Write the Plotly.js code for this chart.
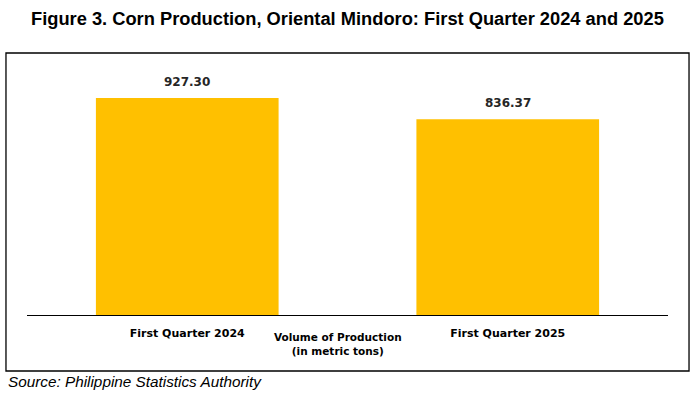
<!DOCTYPE html>
<html><head><meta charset="utf-8">
<script src="https://cdn.plot.ly/plotly-3.0.1.min.js"></script>
<style>html,body{margin:0;padding:0;background:#fff;}</style>
</head><body>
<div id="chart" style="width:699px;height:393px;"></div>
<script>
const categories = ["First Quarter 2024", "First Quarter 2025"];
const production = [927.30, 836.37];
const valueLabels = ["927.30", "836.37"];
const chartTitle = "Figure 3. Corn Production, Oriental Mindoro: First Quarter 2024 and 2025";
const axisTitle = "Volume of Production<br>(in metric tons)";
const sourceText = "Source: Philippine Statistics Authority";

const tickFont = {family: "DejaVu Sans, Tahoma, sans-serif", size: 11, color: "#000"};

const trace = {
  type: "bar",
  x: categories,
  y: production,
  marker: {color: "#FFC000"},
  hoverinfo: "x+y"
};

const labelAnnotations = categories.map((c, i) => ({
  x: c, y: production[i], xref: "x", yref: "y",
  text: valueLabels[i], showarrow: false,
  xanchor: "center", yanchor: "bottom", yshift: 7,
  font: {family: "DejaVu Sans, sans-serif", size: 12, color: "#262626", weight: "bold"}
}));

const layout = {
  width: 699, height: 393,
  margin: {l: 27, r: 31, t: 60, b: 78},
  paper_bgcolor: "#fff", plot_bgcolor: "#fff",
  bargap: 0.43,
  showlegend: false,
  title: {text: chartTitle, x: 0.497, xanchor: "center", y: 0.953, yanchor: "middle",
          font: {family: "Liberation Sans, Arial, sans-serif", size: 18.3, color: "#000", weight: "bold"}},
  xaxis: {
    showline: true, linecolor: "#000", linewidth: 1.2,
    ticks: "", ticklabelstandoff: 8,
    tickfont: Object.assign({weight: "bold"}, tickFont),
    fixedrange: true
  },
  yaxis: {
    range: [0, 1090], visible: false, showgrid: false, zeroline: false, fixedrange: true
  },
  shapes: [{
    type: "rect", xref: "paper", yref: "paper",
    x0: -0.0328, x1: 1.0328, y0: -0.2196, y1: 1.0275,
    line: {color: "#000", width: 1.3}, fillcolor: "rgba(0,0,0,0)", layer: "below"
  }],
  annotations: labelAnnotations.concat([
    {text: axisTitle, xref: "paper", yref: "paper", x: (338-27)/641, y: (315-344)/255,
     xanchor: "center", yanchor: "middle", showarrow: false, align: "center",
     font: Object.assign({weight: "bold"}, tickFont, {size: 10.5})},
    {text: sourceText, xref: "paper", yref: "paper", x: (6-27)/641, y: (315-381)/255,
     xanchor: "left", yanchor: "middle", showarrow: false,
     font: {family: "Liberation Sans, Arial, sans-serif", size: 15.3, color: "#000", style: "italic"}}
  ])
};

Plotly.newPlot("chart", [trace], layout, {displayModeBar: false, staticPlot: true});
</script>
</body></html>
